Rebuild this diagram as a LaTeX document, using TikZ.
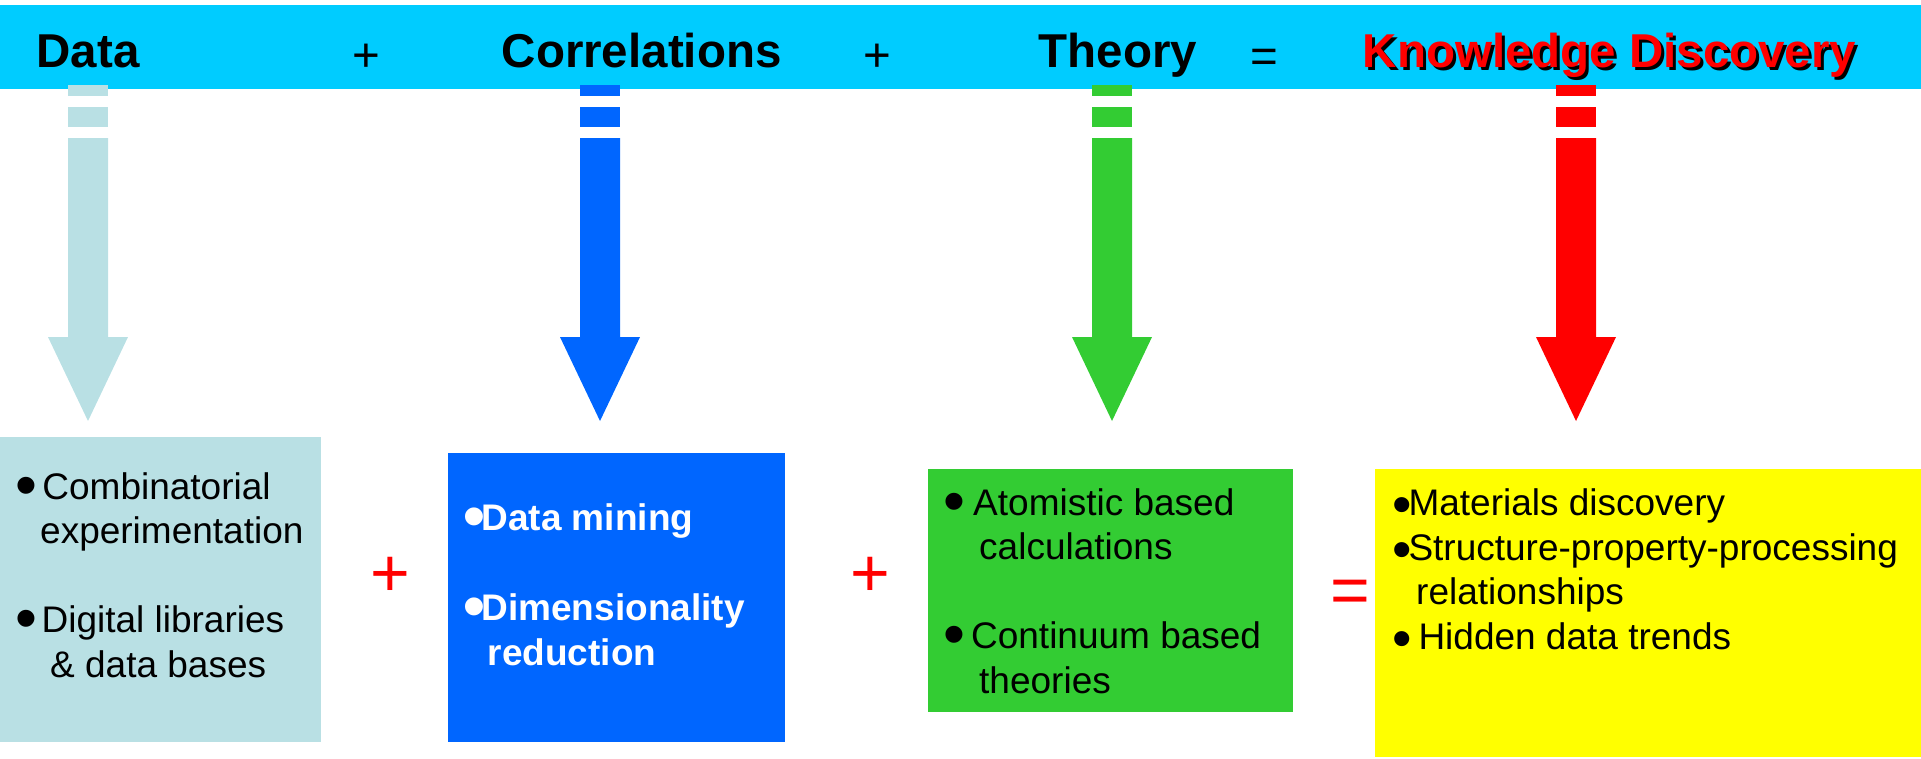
\documentclass[tikz,border=0pt]{standalone}
\usepackage{fontspec}
\setmainfont{Liberation Sans}
\definecolor{barblue}{HTML}{00CCFF}
\definecolor{lblue}{HTML}{B9E0E4}
\definecolor{dblue}{HTML}{0066FF}
\definecolor{grn}{HTML}{33CC33}
\definecolor{rd}{HTML}{FF0000}
\definecolor{ylw}{HTML}{FFFF00}
\newcommand{\bulA}{\makebox[0.352em][l]{\hspace{-0.123em}\raisebox{-0.198em}{\scalebox{1.69}{•}}}}
\newcommand{\bulB}{\makebox[0.313em][l]{\hspace{-0.11em}\raisebox{-0.2175em}{\scalebox{1.5}{•}}}}
\tikzset{
  titletext/.style={anchor=base west, inner sep=0pt, font=\fontsize{47.5}{57}\selectfont\bfseries},
  titleop/.style={anchor=base, inner sep=0pt, font=\fontsize{47.5}{57}\selectfont},
  bigop/.style={anchor=base, inner sep=0pt, text=rd, font=\fontsize{68}{80}\selectfont},
  panel/.style={anchor=north west, inner sep=0pt, draw=none},
  ltext/.style={anchor=base west, inner sep=0pt, font=\fontsize{37}{44}\selectfont},
  btext/.style={anchor=base west, inner sep=0pt, text=white, font=\fontsize{37}{44}\selectfont\bfseries},
}
\begin{document}
\begin{tikzpicture}[x=1pt,y=-1pt]
\useasboundingbox (0,0) rectangle (1921,758);
% title bar
\node[panel, fill=barblue, minimum width=1921pt, minimum height=84pt] (bar) at (0,5) {};
% arrows
\foreach \cx/\col in {88/lblue, 600/dblue, 1112/grn, 1576/rd} {
  \fill[\col] (\cx-20,85) rectangle (\cx+20,96);
  \fill[\col] (\cx-20,107) rectangle (\cx+20,127);
  \fill[\col] (\cx-20,138) -- (\cx+20,138) -- (\cx+20,337) -- (\cx+40,337)
     -- (\cx,421) -- (\cx-40,337) -- (\cx-20,337) -- cycle;
}
% title texts
\node[titletext] (tdata) at (36.5,67) {Data};
\node[titleop] (tp1) at (366,71) {+};
\node[titletext] (tcorr) at (501.5,67) {Correlations};
\node[titleop] (tp2) at (877,71) {+};
\node[titletext] (ttheo) at (1038.5,67) {Theory};
\node[titleop] (teq) at (1264,72) {=};
\node[titletext, text=black] (tkdsh) at (1365.5,70) {Knowledge Discovery};
\node[titletext, text=rd] (tkd) at (1362.5,67) {Knowledge Discovery};
% panels
\node[panel, fill=lblue, minimum width=321pt, minimum height=305pt] (p1) at (0,437) {};
\node[panel, fill=dblue, minimum width=337pt, minimum height=289pt] (p2) at (448,453) {};
\node[panel, fill=grn, minimum width=365pt, minimum height=243pt] (p3) at (928,469) {};
\node[panel, fill=ylw, minimum width=546pt, minimum height=288pt] (p4) at (1375,469) {};
% panel 1 text
\node[ltext] (a1) at (20,499) {\bulA\hspace{9.2pt}Combinatorial};
\node[ltext] (a2) at (40,543) {experimentation};
\node[ltext] (a3) at (20,632) {\bulA\hspace{8.4pt}Digital libraries};
\node[ltext] (a4) at (50,677) {\&~data bases};
% panel 2 text
\node[btext] (b1) at (468.3,530) {\bulA Data mining};
\node[btext] (b2) at (468.3,620) {\bulA Dimensionality};
\node[btext] (b3) at (487.5,665) {reduction};
% panel 3 text
\node[ltext] (c1) at (948.3,515) {\bulA\hspace{11.7pt}Atomistic based};
\node[ltext] (c2) at (979,559) {calculations};
\node[ltext] (c3) at (948.3,648) {\bulA\hspace{9.6pt}Continuum based};
\node[ltext] (c4) at (979,693) {theories};
% panel 4 text
\node[ltext] (d1) at (1396.7,515) {\bulB Materials discovery};
\node[ltext] (d2) at (1396.7,560) {\bulB Structure-property-processing};
\node[ltext] (d3) at (1416,604) {relationships};
\node[ltext] (d4) at (1396.7,649) {\bulB\hspace{10pt}Hidden data trends};
% operators
\node[bigop] (op1) at (390,596) {+};
\node[bigop] (op2) at (870,596) {+};
\node[bigop] (op3) at (1350,613.5) {=};
\end{tikzpicture}
\end{document}
